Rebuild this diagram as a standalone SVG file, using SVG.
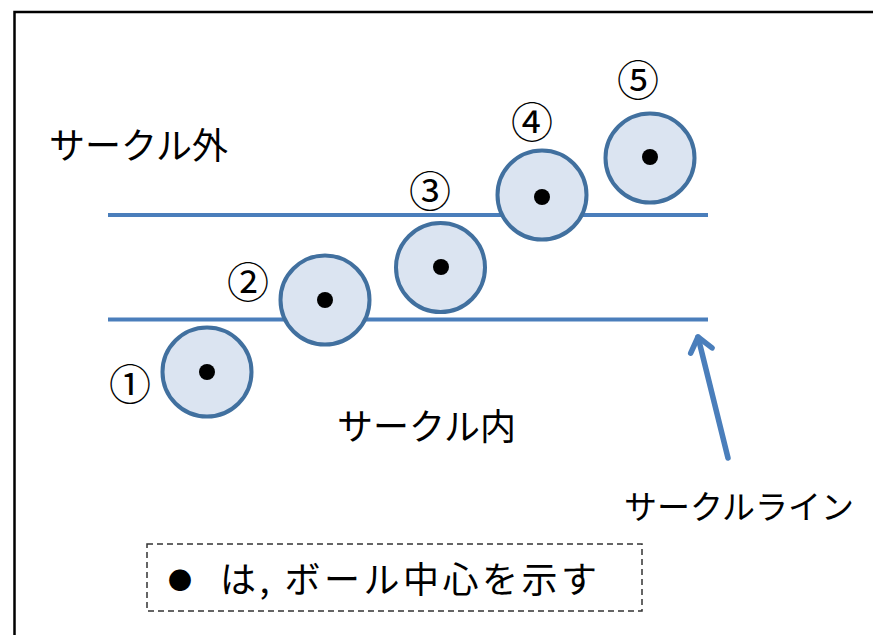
<svg xmlns="http://www.w3.org/2000/svg" width="873" height="635" viewBox="0 0 873 635">
<style>
.ball{fill:#DBE4F1;stroke:#41709F;stroke-width:4}
.dot{fill:#000}
.line{stroke:#4A7EBB;stroke-width:4;fill:none}
.t{font-family:"Noto Sans CJK JP","Noto Sans",sans-serif;fill:#000;dominant-baseline:central}
.lab{font-size:36px;text-anchor:middle}
.num{font-size:42px;text-anchor:middle}
</style>
<defs>
<marker id="ah" markerWidth="12" markerHeight="12" refX="9" refY="6" orient="auto" markerUnits="userSpaceOnUse" overflow="visible">
<path d="M-14,-11 L0,0 L-14,11" fill="none" stroke="#4A7EBB" stroke-width="5.5" stroke-linecap="round" stroke-linejoin="round" transform="translate(9,6)"/>
</marker>
</defs>
<rect width="873" height="635" fill="#fff"/>
<path d="M14.5,636 V12 H873" fill="none" stroke="#000" stroke-width="2.5"/>
<g id="connectors">
<line class="line" x1="108" y1="215" x2="708" y2="215"/>
<line class="line" x1="108" y1="319.5" x2="708" y2="319.5"/>
<line x1="728" y1="458" x2="698" y2="337" stroke="#4A7EBB" stroke-width="5.5" stroke-linecap="round" marker-end="url(#ah)"/>
</g>
<g id="ball1"><circle class="ball" cx="207" cy="372" r="44.5"/><circle class="dot" cx="207" cy="372" r="8"/><text class="t num" x="130" y="381">①</text></g>
<g id="ball2"><circle class="ball" cx="325" cy="300" r="44.5"/><circle class="dot" cx="325" cy="300" r="8"/><text class="t num" x="248" y="279">②</text></g>
<g id="ball3"><circle class="ball" cx="440.5" cy="267.5" r="44.5"/><circle class="dot" cx="441" cy="267" r="8"/><text class="t num" x="430" y="188">③</text></g>
<g id="ball4"><circle class="ball" cx="542" cy="195" r="44.5"/><circle class="dot" cx="542" cy="197" r="8"/><text class="t num" x="532" y="119">④</text></g>
<g id="ball5"><circle class="ball" cx="650" cy="158" r="44.5"/><circle class="dot" cx="650" cy="157" r="8"/><text class="t num" x="638" y="77">⑤</text></g>
<g id="label-outside"><text class="t lab" x="138.5" y="142.5">サークル外</text></g>
<g id="label-inside"><text class="t lab" x="426.5" y="424">サークル内</text></g>
<g id="label-line"><text class="t" x="739" y="504.5" font-size="33" text-anchor="middle">サークルライン</text></g>
<g id="legend">
<rect x="147" y="544" width="495" height="67" fill="none" stroke="#333" stroke-width="1.5" stroke-dasharray="6,4"/>
<text class="t" x="180" y="578" font-size="24" text-anchor="middle">●</text>
<text class="t" x="220" y="577" font-size="36" textLength="377" lengthAdjust="spacing">は, ボール中心を示す</text>
</g>
</svg>
